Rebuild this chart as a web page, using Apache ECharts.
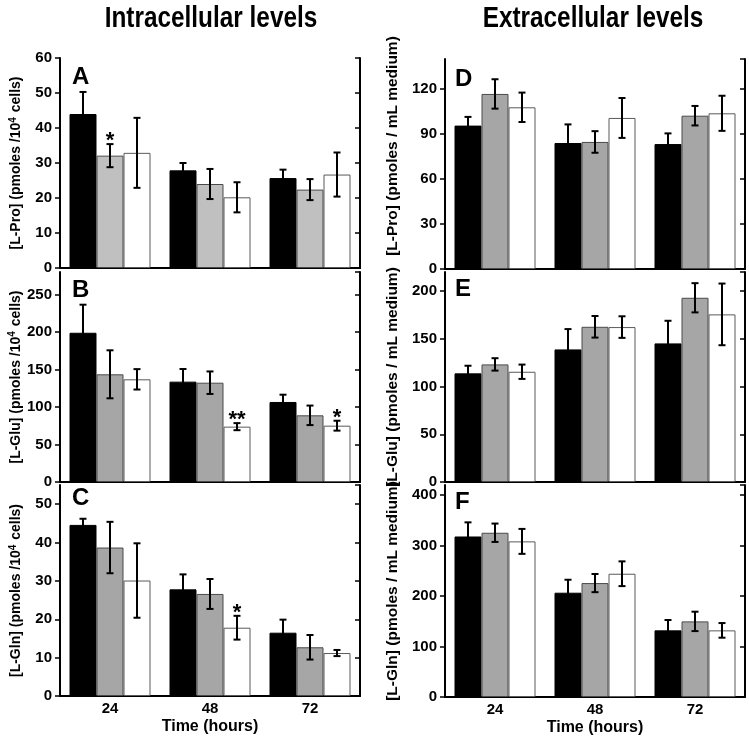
<!DOCTYPE html>
<html><head><meta charset="utf-8">
<script src="https://cdn.jsdelivr.net/npm/echarts@6/dist/echarts.min.js"></script>
<style>html,body{margin:0;padding:0;background:#fff}#c{width:749px;height:740px}</style>
</head><body><div id="c"></div>
<script>
// ---------------- DATA ----------------
const categories = ['24', '48', '72'];

// A: intracellular L-Pro
const aBlack = [44.0, 27.9, 25.7], aBlackErr = [6.3, 2.1, 2.4];
const aGrey  = [32.1, 24.0, 22.4], aGreyErr  = [3.3, 4.3, 3.0];
const aWhite = [32.9, 20.2, 26.7], aWhiteErr = [10.0, 4.3, 6.3];
const aStars = { grey: ['*', '', ''], white: ['', '', ''] };

// B: intracellular L-Glu
const bBlack = [199.0, 133.8, 106.7], bBlackErr = [37.4, 16.9, 9.7];
const bGrey  = [143.6, 132.4, 88.9],  bGreyErr  = [32.0, 15.0, 13.0];
const bWhite = [136.9, 73.8, 75.1],   bWhiteErr = [13.6, 4.7, 6.6];
const bStars = { grey: ['', '', ''], white: ['', '**', '*'] };

// C: intracellular L-Gln
const cBlack = [44.6, 27.8, 16.5], cBlackErr = [1.6, 3.9, 3.4];
const cGrey  = [38.7, 26.6, 12.7], cGreyErr  = [6.7, 3.9, 3.2];
const cWhite = [30.1, 17.8, 11.2], cWhiteErr = [9.7, 3.1, 0.8];
const cStars = { grey: ['', '', ''], white: ['', '*', ''] };

// D: extracellular L-Pro
const dBlack = [95.6, 84.0, 83.3],    dBlackErr = [5.8, 12.4, 7.1];
const dGrey  = [116.7, 84.7, 102.2],  dGreyErr  = [9.8, 7.2, 6.5];
const dWhite = [107.8, 100.7, 103.8], dWhiteErr = [9.8, 13.3, 11.7];

// E: extracellular L-Glu
const eBlack = [113.8, 138.9, 145.2], eBlackErr = [8.0, 21.3, 23.7];
const eGrey  = [123.2, 162.6, 193.0], eGreyErr  = [6.5, 11.3, 15.3];
const eWhite = [115.5, 162.3, 175.6], eWhiteErr = [7.5, 11.3, 32.3];

// F: extracellular L-Gln
const fBlack = [318.0, 206.6, 132.0], fBlackErr = [28.0, 25.7, 20.5];
const fGrey  = [325.4, 225.7, 149.8], fGreyErr  = [18.2, 18.0, 19.2];
const fWhite = [308.3, 244.2, 132.0], fWhiteErr = [24.7, 24.5, 14.5];

const noStars = { grey: ['', '', ''], white: ['', '', ''] };

// ---------------- LAYOUT ----------------
const FONT = "'Liberation Sans', Arial, sans-serif";
const panels = [
  { letter: 'A', left: 60,  top: 58,  height: 210, max: 60,  interval: 10,  greyColor: '#c0c0c0',
    name: '[L-Pro] (pmoles /10{sup|4} cells)', nameGap: 35, nameSize: 14, namePad: 0, bottom: false,
    vals: [aBlack, aGrey, aWhite], errs: [aBlackErr, aGreyErr, aWhiteErr], stars: aStars, lx: 72, ly: 77 },
  { letter: 'B', left: 60,  top: 272, height: 210, max: 280, interval: 50,  greyColor: '#a6a6a6',
    name: '[L-Glu] (pmoles /10{sup|4} cells)', nameGap: 35, nameSize: 14, namePad: 0, bottom: false,
    vals: [bBlack, bGrey, bWhite], errs: [bBlackErr, bGreyErr, bWhiteErr], stars: bStars, lx: 72, ly: 290 },
  { letter: 'C', left: 60,  top: 485, height: 211, max: 55,  interval: 10,  greyColor: '#a6a6a6',
    name: '[L-Gln] (pmoles /10{sup|4} cells)', nameGap: 35, nameSize: 14, namePad: 0, bottom: true,
    vals: [cBlack, cGrey, cWhite], errs: [cBlackErr, cGreyErr, cWhiteErr], stars: cStars, lx: 72, ly: 498 },
  { letter: 'D', left: 445, top: 59,  height: 210, max: 140, interval: 30,  greyColor: '#a6a6a6',
    name: '[L-Pro] (pmoles / mL medium)', nameGap: 44, nameSize: 15.5, namePad: 36, bottom: false,
    vals: [dBlack, dGrey, dWhite], errs: [dBlackErr, dGreyErr, dWhiteErr], stars: noStars, lx: 455, ly: 79 },
  { letter: 'E', left: 445, top: 272, height: 210, max: 220, interval: 50,  greyColor: '#a6a6a6',
    name: '[L-Glu] (pmoles / mL medium)', nameGap: 44, nameSize: 15.5, namePad: 0, bottom: false,
    vals: [eBlack, eGrey, eWhite], errs: [eBlackErr, eGreyErr, eWhiteErr], stars: noStars, lx: 455, ly: 289 },
  { letter: 'F', left: 445, top: 485, height: 212, max: 420, interval: 100, greyColor: '#a6a6a6',
    name: '[L-Gln] (pmoles / mL medium)', nameGap: 44, nameSize: 15.5, namePad: 0, bottom: true,
    vals: [fBlack, fGrey, fWhite], errs: [fBlackErr, fGreyErr, fWhiteErr], stars: noStars, lx: 455, ly: 502 }
];

const grid = [], xAxis = [], yAxis = [], series = [], graphic = [];
const axisLineStyle = { color: '#000', width: 2 };

panels.forEach((p, i) => {
  grid.push({ left: p.left, top: p.top, width: 300, height: p.height });
  xAxis.push({
    type: 'category', gridIndex: i, data: categories, position: 'bottom',
    axisLine: { lineStyle: axisLineStyle },
    axisTick: { inside: true, length: 6, lineStyle: { color: '#000', width: 1.5 } },
    axisLabel: { show: p.bottom, color: '#000', fontWeight: 'bold', fontSize: 15, fontFamily: FONT, margin: 5 },
    name: p.bottom ? 'Time (hours)' : '', nameLocation: 'middle', nameGap: 23,
    nameTextStyle: { color: '#000', fontWeight: 'bold', fontSize: 16, fontFamily: FONT },
    splitLine: { show: false }
  });
  xAxis.push({
    type: 'category', gridIndex: i, data: categories, position: 'top',
    axisLine: { lineStyle: axisLineStyle },
    axisTick: { inside: true, length: 6, lineStyle: { color: '#000', width: 1.5 } },
    axisLabel: { show: false }, splitLine: { show: false }
  });
  yAxis.push({
    type: 'value', gridIndex: i, min: 0, max: p.max, interval: p.interval, position: 'left',
    axisLine: { show: true, lineStyle: axisLineStyle },
    axisTick: { show: true, inside: false, length: 5, lineStyle: { color: '#000', width: 1.5 } },
    axisLabel: { color: '#000', fontWeight: 'bold', fontSize: 15, fontFamily: FONT, margin: 8,
                 showMaxLabel: (p.max % p.interval === 0) },
    splitLine: { show: false },
    name: p.name, nameLocation: 'middle', nameGap: p.nameGap,
    nameTextStyle: { color: '#000', fontWeight: 'bold', fontSize: p.nameSize, fontFamily: FONT,
      padding: [0, 0, 0, p.namePad],
      rich: { sup: { fontSize: 10, fontWeight: 'bold', fontFamily: FONT, color: '#000', padding: [0, 1, 7, 0] } } }
  });
  yAxis.push({
    type: 'value', gridIndex: i, min: 0, max: p.max, interval: p.interval, position: 'right',
    axisLine: { show: true, lineStyle: axisLineStyle },
    axisTick: { show: true, inside: true, length: 5, lineStyle: { color: '#000', width: 1.5 } },
    axisLabel: { show: false }, splitLine: { show: false }
  });

  const styles = [
    { color: '#000', borderColor: '#000', borderWidth: 1 },
    { color: p.greyColor, borderColor: '#4a4a4a', borderWidth: 1 },
    { color: '#fff', borderColor: '#5a5a5a', borderWidth: 1 }
  ];
  const starSets = [['', '', ''], p.stars.grey, p.stars.white];
  p.vals.forEach((vals, s) => {
    series.push({
      type: 'bar', xAxisIndex: 2 * i, yAxisIndex: 2 * i, data: vals,
      barWidth: '27%', barGap: '0%', itemStyle: styles[s], silent: true, z: 2
    });
  });
  p.vals.forEach((vals, s) => {
    const errs = p.errs[s];
    const stars = starSets[s];
    series.push({
      type: 'custom', xAxisIndex: 2 * i, yAxisIndex: 2 * i, z: 5, clip: false, silent: true,
      data: vals.map((v, k) => [k, v, errs[k]]),
      encode: { x: 0, y: 1 },
      renderItem: function (params, api) {
        const band = api.size([1, 0])[0];
        const cx = api.coord([api.value(0), 0])[0] + (s - 1) * band * 0.27;
        const v = api.value(1), e = api.value(2);
        const yt = api.coord([0, v + e])[1], yb = api.coord([0, v - e])[1];
        const cap = 3.5;
        const st = { stroke: '#000', lineWidth: 2 };
        const children = [
          { type: 'line', shape: { x1: cx, y1: yt, x2: cx, y2: yb }, style: st },
          { type: 'line', shape: { x1: cx - cap, y1: yt, x2: cx + cap, y2: yt }, style: st },
          { type: 'line', shape: { x1: cx - cap, y1: yb, x2: cx + cap, y2: yb }, style: st }
        ];
        const txt = stars[params.dataIndex];
        if (txt) {
          children.push({ type: 'text', style: { x: cx, y: yt - 3, text: txt, align: 'center', verticalAlign: 'middle',
            fontSize: 22, fontWeight: 'bold', fontFamily: FONT, fill: '#000' } });
        }
        return { type: 'group', children };
      }
    });
  });

  graphic.push({ type: 'text', left: p.lx, top: p.ly - 12, z: 10,
    style: { text: p.letter, fontSize: 24, fontWeight: 'bold', fontFamily: FONT, fill: '#000' } });
});

graphic.push({ type: 'text', x: 211, y: 19, z: 10, scaleX: 0.84,
  style: { text: 'Intracellular levels', align: 'center', verticalAlign: 'middle', fontSize: 29, fontWeight: 'bold',
    fontFamily: FONT, fill: '#000' } });
graphic.push({ type: 'text', x: 593, y: 19, z: 10, scaleX: 0.84,
  style: { text: 'Extracellular levels', align: 'center', verticalAlign: 'middle', fontSize: 29, fontWeight: 'bold',
    fontFamily: FONT, fill: '#000' } });

const chart = echarts.init(document.getElementById('c'), null, { renderer: 'canvas' });
chart.setOption({ animation: false, backgroundColor: '#fff', grid, xAxis, yAxis, series, graphic });
</script>
</body></html>
